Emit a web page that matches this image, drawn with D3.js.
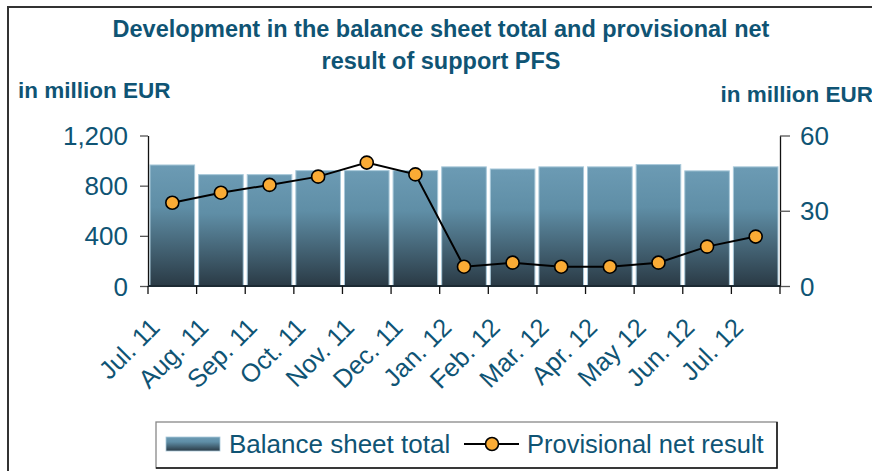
<!DOCTYPE html>
<html>
<head>
<meta charset="utf-8">
<script src="https://cdn.jsdelivr.net/npm/d3@7"></script>
<style>
  body { margin: 0; background: #fff; }
  svg { display: block; font-family: 'Liberation Sans', Arial, sans-serif; }
</style>
</head>
<body>
<div id="chart"></div>
<script>
const months = ['Jul. 11', 'Aug. 11', 'Sep. 11', 'Oct. 11', 'Nov. 11', 'Dec. 11',
  'Jan. 12', 'Feb. 12', 'Mar. 12', 'Apr. 12', 'May 12', 'Jun. 12', 'Jul. 12'];
const balanceTotal = [965, 888, 888, 920, 920, 920, 950, 933, 950, 950, 968, 918, 950];
const netResult = [33.2, 37.2, 40.3, 43.6, 49.2, 44.5, 7.7, 9.3, 7.7, 7.7, 9.3, 15.7, 19.7];
const leftTicks = [0, 400, 800, 1200];
const rightTicks = [0, 30, 60];
const titleLines = ['Development in the balance sheet total and provisional net', 'result of support PFS'];
const unitLabel = 'in million EUR';
const legendLabels = ['Balance sheet total', 'Provisional net result'];

const W = 872;
const H = 471;
const textColor = '#0f5474';
const m = { left: 148, right: 780, top: 135.5, bottom: 286 };

const svg = d3.select('#chart')
  .append('svg')
  .attr('width', W)
  .attr('height', H);

// Gradient for bars
const defs = svg.append('defs');
const grad = defs.append('linearGradient')
  .attr('id', 'barGrad')
  .attr('x1', 0).attr('y1', 0).attr('x2', 0).attr('y2', 1);
grad.append('stop').attr('offset', '0%').attr('stop-color', '#6c9bb4');
grad.append('stop').attr('offset', '35%').attr('stop-color', '#5f8ea6');
grad.append('stop').attr('offset', '100%').attr('stop-color', '#2a3a45');

// Outer frame
svg.append('path')
  .attr('d', `M8,${H + 5}V7H${W + 5}`)
  .attr('fill', 'none')
  .attr('stroke', '#333')
  .attr('stroke-width', 2);

const x = d3.scaleBand()
  .domain(months)
  .range([m.left, m.right])
  .padding(0);

const yLeft = d3.scaleLinear()
  .domain([0, 1200])
  .range([m.bottom, m.top]);

const yRight = d3.scaleLinear()
  .domain([0, 60])
  .range([m.bottom, m.top]);

// Title
svg.append('text')
  .attr('x', 441)
  .attr('y', 37)
  .attr('text-anchor', 'middle')
  .attr('fill', textColor)
  .style('font-weight', 'bold')
  .style('font-size', '23.5px')
  .selectAll('tspan')
  .data(titleLines)
  .enter()
  .append('tspan')
  .attr('x', 441)
  .attr('dy', (_, i) => (i === 0 ? 0 : 32))
  .text(d => d);

svg.append('text')
  .attr('x', 18)
  .attr('y', 98)
  .attr('fill', textColor)
  .style('font-weight', 'bold')
  .style('font-size', '22.5px')
  .text(unitLabel);

svg.append('text')
  .attr('x', 873)
  .attr('y', 102)
  .attr('text-anchor', 'end')
  .attr('fill', textColor)
  .style('font-weight', 'bold')
  .style('font-size', '22.5px')
  .text(unitLabel);

// Bars
svg.append('g')
  .selectAll('rect')
  .data(balanceTotal)
  .enter()
  .append('rect')
  .attr('x', (_, i) => x(months[i]) + 2)
  .attr('y', d => yLeft(d))
  .attr('width', x.bandwidth() - 4)
  .attr('height', d => yLeft(0) - yLeft(d))
  .attr('fill', 'url(#barGrad)')
  .attr('stroke', '#a9c9da')
  .attr('stroke-width', 1);

// Left axis
const leftAxis = svg.append('g')
  .attr('transform', `translate(${m.left},0)`)
  .call(d3.axisLeft(yLeft).tickValues(leftTicks).tickSize(8).tickSizeOuter(0)
    .tickFormat(d3.format(',')));
leftAxis.select('.domain').attr('stroke', '#111').attr('stroke-width', 1.3);
leftAxis.selectAll('.tick line').attr('stroke', '#555').attr('stroke-width', 1.3);
leftAxis.selectAll('.tick text')
  .attr('x', -20)
  .attr('dy', '0.35em')
  .attr('fill', textColor)
  .style('font-size', '26px')
  .style('font-family', "'Liberation Sans', Arial, sans-serif");

// Right axis
const rightAxis = svg.append('g')
  .attr('transform', `translate(${m.right},0)`)
  .call(d3.axisRight(yRight).tickValues(rightTicks).tickSize(10).tickSizeOuter(0));
rightAxis.select('.domain').attr('stroke', '#111').attr('stroke-width', 1.3);
rightAxis.selectAll('.tick line').attr('stroke', '#555').attr('stroke-width', 1.3);
rightAxis.selectAll('.tick text')
  .attr('x', 20)
  .attr('dy', '0.35em')
  .attr('fill', textColor)
  .style('font-size', '26px')
  .style('font-family', "'Liberation Sans', Arial, sans-serif");

// X axis with ticks at band boundaries
const xAxis = svg.append('g')
  .attr('transform', `translate(0,${m.bottom})`);
xAxis.append('line')
  .attr('x1', m.left).attr('x2', m.right)
  .attr('stroke', '#1c2a33')
  .attr('stroke-width', 2);
xAxis.selectAll('.xtick')
  .data(months.concat(['end']))
  .enter()
  .append('line')
  .attr('x1', (d, i) => (i < months.length ? x(d) : m.right))
  .attr('x2', (d, i) => (i < months.length ? x(d) : m.right))
  .attr('y1', 0)
  .attr('y2', 8)
  .attr('stroke', '#111')
  .attr('stroke-width', 1.3);
xAxis.selectAll('.xlabel')
  .data(months)
  .enter()
  .append('text')
  .attr('text-anchor', 'end')
  .attr('fill', textColor)
  .style('font-size', '25.5px')
  .attr('transform', d => `translate(${x(d) + x.bandwidth() / 2 - 11},${43}) rotate(-45)`)
  .text(d => d);

// Line
const line = d3.line()
  .x((_, i) => x(months[i]) + x.bandwidth() / 2)
  .y(d => yRight(d));

svg.append('path')
  .datum(netResult)
  .attr('d', line)
  .attr('fill', 'none')
  .attr('stroke', '#000')
  .attr('stroke-width', 2);

svg.append('g')
  .selectAll('circle')
  .data(netResult)
  .enter()
  .append('circle')
  .attr('cx', (_, i) => x(months[i]) + x.bandwidth() / 2)
  .attr('cy', d => yRight(d))
  .attr('r', 6.5)
  .attr('fill', '#faab35')
  .attr('stroke', '#000')
  .attr('stroke-width', 1.6);

// Legend
const legend = svg.append('g');
legend.append('rect')
  .attr('x', 156).attr('y', 422)
  .attr('width', 621).attr('height', 46)
  .attr('fill', '#fff')
  .attr('stroke', '#888')
  .attr('stroke-width', 1.3);
legend.append('path')
  .attr('d', 'M777,422V468H156')
  .attr('fill', 'none')
  .attr('stroke', '#111')
  .attr('stroke-width', 1.5);
legend.append('rect')
  .attr('x', 166).attr('y', 437)
  .attr('width', 54).attr('height', 14)
  .attr('fill', 'url(#barGrad)')
  .attr('stroke', '#a9c9da')
  .attr('stroke-width', 0.8);
legend.append('text')
  .attr('x', 229).attr('y', 453)
  .attr('fill', textColor)
  .style('font-size', '26px')
  .text(legendLabels[0]);
legend.append('line')
  .attr('x1', 464).attr('x2', 519)
  .attr('y1', 444).attr('y2', 444)
  .attr('stroke', '#000')
  .attr('stroke-width', 2);
legend.append('circle')
  .attr('cx', 492).attr('cy', 444)
  .attr('r', 6.5)
  .attr('fill', '#faab35')
  .attr('stroke', '#000')
  .attr('stroke-width', 1.6);
legend.append('text')
  .attr('x', 527).attr('y', 453)
  .attr('fill', textColor)
  .style('font-size', '25.5px')
  .text(legendLabels[1]);
</script>
</body>
</html>
